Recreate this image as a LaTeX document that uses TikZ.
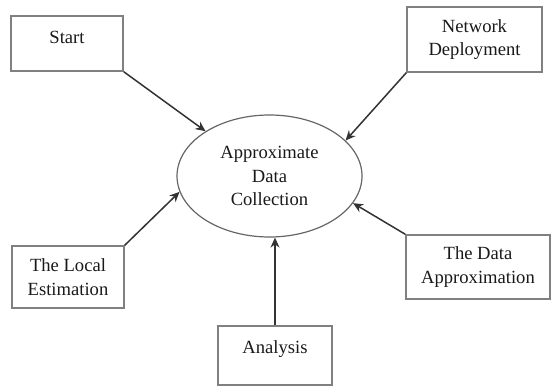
\documentclass[tikz,border=0pt]{standalone}
\usepackage{fontspec}
\setmainfont{Liberation Serif}
\newfontfamily\diagfont{Liberation Serif}
\usetikzlibrary{shapes.geometric,arrows.meta}
\begin{document}
\begin{tikzpicture}[x=1pt,y=-1pt,
  box/.style={draw=black!50,line width=1.4pt,rectangle,inner sep=0pt,align=center,
    font=\diagfont\fontsize{18.6}{23.5}\selectfont,text=black!90},
  onebox/.style={box,text height=13pt,text depth=13pt},
  ellbox/.style={draw=black!60,line width=1.2pt,ellipse,inner sep=0pt,align=center,
    font=\diagfont\fontsize{18.6}{23.5}\selectfont,text=black!90},
  arr/.style={draw=black!80,line width=1.5pt,-{Stealth[length=10pt,width=9pt]}}]
\useasboundingbox (0,0) rectangle (551,387);
\node[onebox,minimum width=112,minimum height=55] (start) at (67,43.5) {Start};
\node[box,minimum width=135,minimum height=65] (net) at (474.5,39.5) {Network\\Deployment};
\node[box,minimum width=112,minimum height=62] (local) at (68,277) {The Local\\Estimation};
\node[box,minimum width=144,minimum height=64] (data) at (478,267) {The Data\\Approximation};
\node[box,minimum width=114,minimum height=59,text height=13pt,text depth=18pt] (ana) at (275,355.5) {Analysis};
\node[ellbox,minimum width=185,minimum height=122] (ell) at (269.5,176) {Approximate\\Data\\Collection};
\draw[arr] (start.south east) -- (ell.145.5);
\draw[arr] (net.south west) -- (ell.25.5);
\draw[arr] (local.north east) -- (ell.190.6);
\draw[arr] (data.north west) -- (ell.342);
\draw[arr] (ana.north) -- (ana.north |- ell.south);
\end{tikzpicture}
\end{document}
